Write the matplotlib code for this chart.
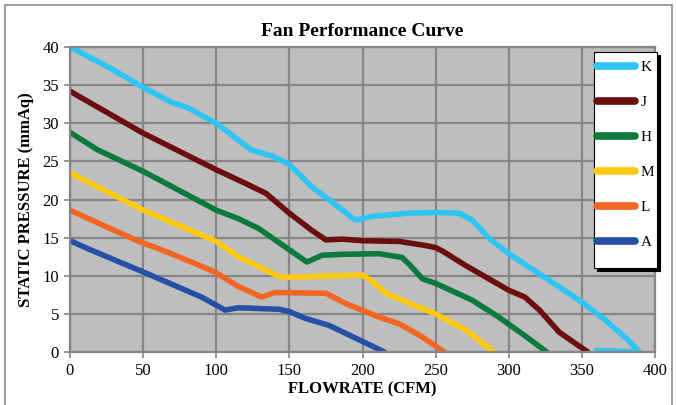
import matplotlib.pyplot as plt
from matplotlib.patches import Rectangle

plt.rcParams['font.family'] = ['Liberation Serif', 'DejaVu Serif']

# flowrate (CFM) / static pressure (mmAq)
k_flow = [0, 25, 50, 70, 81, 100, 124, 138, 150, 165, 177, 195, 207, 232, 250, 266, 275, 286.5, 300, 327.6, 348, 366, 382, 389.5, 360]
k_pres = [40, 37.5, 34.7, 32.7, 32.0, 30.0, 26.5, 25.7, 24.6, 21.7, 20.0, 17.3, 17.8, 18.2, 18.3, 18.2, 17.3, 14.9, 12.9, 9.4, 6.8, 4.2, 1.5, 0.0, 0.2]

j_flow = [0, 50, 100, 119, 134, 150, 165, 175, 186, 200, 225, 242, 250, 255, 270, 300, 311, 321, 334.5, 354]
j_pres = [34.2, 28.7, 23.9, 22.2, 20.8, 18.2, 16.0, 14.7, 14.8, 14.6, 14.5, 14.0, 13.7, 13.2, 11.4, 8.1, 7.2, 5.5, 2.6, 0.0]

h_flow = [0, 19, 50, 100, 115, 129, 150, 162, 172.5, 185, 211, 227, 232, 241, 250, 275, 293, 312, 326]
h_pres = [28.8, 26.5, 23.7, 18.6, 17.5, 16.2, 13.4, 11.8, 12.7, 12.8, 12.9, 12.4, 11.5, 9.6, 9.0, 6.8, 4.6, 2.0, 0.0]

m_flow = [0, 50, 100, 115, 143, 150, 200, 207, 216, 232, 250, 270.5, 290]
m_pres = [23.5, 18.6, 14.5, 12.5, 9.9, 9.8, 10.1, 9.2, 7.7, 6.4, 5.0, 2.9, 0.0]

l_flow = [0, 47, 60, 88, 99, 115, 131, 140, 175, 188, 211, 225, 239, 256]
l_pres = [18.6, 14.5, 13.6, 11.4, 10.5, 8.6, 7.2, 7.8, 7.7, 6.4, 4.6, 3.7, 2.2, 0.0]

a_flow = [0, 14, 50, 90, 106, 115, 143, 150, 161, 177, 215]
a_pres = [14.6, 13.4, 10.5, 7.2, 5.5, 5.8, 5.6, 5.3, 4.4, 3.5, 0.0]

labels = ['K', 'J', 'H', 'M', 'L', 'A']
colors = ['#2EC4F4', '#6B0E0E', '#0B7A3C', '#FFC90E', '#F26522', '#2650A6']
series = [(k_flow, k_pres), (j_flow, j_pres), (h_flow, h_pres),
          (m_flow, m_pres), (l_flow, l_pres), (a_flow, a_pres)]

fig = plt.figure(figsize=(6.76, 4.05), dpi=100)
ax = fig.add_axes([70 / 676, 1 - 352 / 405, 585 / 676, 305 / 405])

# outer chart border
fig.patches.append(Rectangle((5 / 676, -0.1), 667 / 676, 1.1 - 5 / 405,
                             transform=fig.transFigure, fill=False,
                             edgecolor='#8c8c8c', linewidth=1.2))

ax.set_facecolor('#BEBEBE')
for lab, col, (fx, py) in zip(labels, colors, series):
    ax.plot(fx, py, color=col, linewidth=4, label=lab,
            solid_capstyle='round', solid_joinstyle='round')

ax.set_xlim(0, 400)
ax.set_ylim(0, 40)
ax.set_xticks(range(0, 401, 50))
ax.set_yticks(range(0, 41, 5))
ax.grid(True, color='#868686', linewidth=1.6)
ax.set_axisbelow(True)
for s in ax.spines.values():
    s.set_color('#868686')
    s.set_linewidth(1.6)
ax.tick_params(direction='out', length=4, width=1.2, color='#868686',
               labelsize=12, pad=4)

ax.set_xlabel('FLOWRATE (CFM)', fontsize=12, fontweight='bold', labelpad=2)
ax.set_ylabel('STATIC PRESSURE (mmAq)', fontsize=12, fontweight='bold', labelpad=6)
ax.set_title('Fan Performance Curve', fontsize=14, fontweight='bold', pad=8)

leg = ax.legend(loc='upper left', bbox_to_anchor=(594 / 676, 1 - 52 / 405),
                bbox_transform=fig.transFigure, fontsize=11, frameon=True,
                fancybox=False, shadow={'color': 'black', 'alpha': 1},
                handlelength=2.5, handleheight=3.15, handletextpad=0.35,
                labelspacing=0.0, borderpad=0.2, borderaxespad=0)
leg.get_frame().set_edgecolor('black')
leg.get_frame().set_linewidth(0.8)
for line in leg.get_lines():
    line.set_linewidth(5.5)
    line.set_solid_capstyle('round')
# lift labels so they sit level with their line
for t in leg.get_texts():
    t.set_y(6)

fig.savefig('out.png', dpi=100)
